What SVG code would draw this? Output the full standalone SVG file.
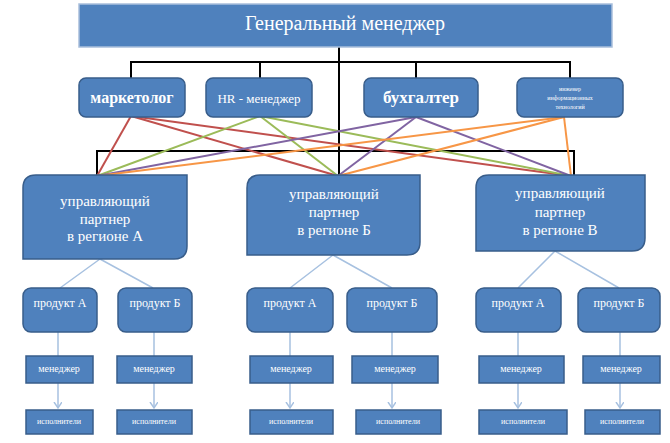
<svg xmlns="http://www.w3.org/2000/svg" width="670" height="443" viewBox="0 0 670 443">
<style>
.box{fill:#4F81BD;stroke:#385D8A;stroke-width:1.5}
.top{fill:#4F81BD;stroke:#A9BFDB;stroke-width:1.5}
.t{font-family:"Liberation Serif","Times New Roman",serif;fill:#fff;text-anchor:middle;dominant-baseline:central}
.blk{stroke:#000;stroke-width:2;fill:none}
.lb{stroke:#A7C1E0;stroke-width:1.5;fill:none}
.r{stroke:#C0504D;stroke-width:2}
.g{stroke:#9BBB59;stroke-width:2}
.p{stroke:#8064A2;stroke-width:2}
.o{stroke:#F79646;stroke-width:2}
</style>
<defs>
<marker id="ar" markerWidth="10" markerHeight="10" refX="6" refY="4" orient="auto" markerUnits="userSpaceOnUse">
<polyline points="0,0 6,4 0,8" fill="none" stroke="#A7C1E0" stroke-width="1.5"/>
</marker>
</defs>
<g id="connectors">
<path class="blk" d="M339,47 V176 M131,78 V62 H570 V78 M260,62 V78 M416,62 V78 M97,176 V151 H574 V176"/>
<line class="r" x1="131" y1="116" x2="97" y2="176"/>
<line class="r" x1="131" y1="116" x2="338" y2="176"/>
<line class="r" x1="131" y1="116" x2="571" y2="176"/>
<line class="g" x1="260" y1="116" x2="97" y2="176"/>
<line class="g" x1="260" y1="116" x2="338" y2="176"/>
<line class="g" x1="260" y1="116" x2="571" y2="176"/>
<line class="p" x1="416" y1="117" x2="97" y2="176"/>
<line class="p" x1="416" y1="117" x2="338" y2="176"/>
<line class="p" x1="416" y1="117" x2="571" y2="176"/>
<line class="o" x1="564" y1="117" x2="97" y2="176"/>
<line class="o" x1="564" y1="117" x2="338" y2="176"/>
<line class="o" x1="564" y1="117" x2="571" y2="176"/>
<path class="lb" d="M100,259 L60,288 M100,259 L153,288 M333,255 L290,288 M333,255 L392,288 M555,251 L518,288 M555,251 L619,288"/>
<path class="lb" d="M58,332 V356 M154,332 V356 M290,332 V356 M392,332 V356 M518,332 V356 M620,332 V356"/>
<g marker-end="url(#ar)">
<line class="lb" x1="58" y1="383" x2="58" y2="408"/>
<line class="lb" x1="154" y1="383" x2="154" y2="408"/>
<line class="lb" x1="290" y1="383" x2="290" y2="408"/>
<line class="lb" x1="392" y1="383" x2="392" y2="408"/>
<line class="lb" x1="518" y1="383" x2="518" y2="408"/>
<line class="lb" x1="620" y1="383" x2="620" y2="408"/>
</g>
</g>
<g id="gm">
<rect class="top" x="79" y="4" width="533" height="43"/>
<text class="t" x="345" y="23" font-size="20">Генеральный менеджер</text>
</g>
<g id="marketolog">
<rect class="box" x="79" y="78" width="106" height="39" rx="7"/>
<text class="t" x="132" y="97" font-size="16" font-weight="bold">маркетолог</text>
</g>
<g id="hr">
<rect class="box" x="206" y="78" width="106" height="39" rx="7"/>
<text class="t" x="259" y="98" font-size="13">HR - менеджер</text>
</g>
<g id="buh">
<rect class="box" x="364" y="78" width="114" height="39" rx="7"/>
<text class="t" x="421" y="97" font-size="17" font-weight="bold">бухгалтер</text>
</g>
<g id="eng">
<rect class="box" x="517" y="78" width="106" height="39" rx="7"/>
<text class="t" x="570" y="89" font-size="6">инженер</text>
<text class="t" x="570" y="98" font-size="6">информационных</text>
<text class="t" x="570" y="107" font-size="6">технологий</text>
</g>
<g id="partnerA">
<path class="box" d="M23,188 Q23,175 36,175 H187 V246 Q187,259 174,259 H23 Z"/>
<text class="t" x="105" y="201" font-size="15">управляющий</text>
<text class="t" x="105" y="219" font-size="15">партнер</text>
<text class="t" x="105" y="236" font-size="15">в регионе А</text>
</g>
<g id="partnerB">
<path class="box" d="M247,188 Q247,175 260,175 H420 V242 Q420,255 407,255 H247 Z"/>
<text class="t" x="334" y="194" font-size="15">управляющий</text>
<text class="t" x="334" y="212" font-size="15">партнер</text>
<text class="t" x="334" y="230" font-size="15">в регионе Б</text>
</g>
<g id="partnerV">
<path class="box" d="M476,188 Q476,175 489,175 H645 V238 Q645,251 632,251 H476 Z"/>
<text class="t" x="560" y="193" font-size="15">управляющий</text>
<text class="t" x="560" y="212" font-size="15">партнер</text>
<text class="t" x="560" y="230" font-size="15">в регионе В</text>
</g>
<g id="prodA1"><rect class="box" x="23" y="288" width="74" height="44" rx="8"/><text class="t" x="60" y="303" font-size="12">продукт А</text></g>
<g id="prodB1"><rect class="box" x="118" y="288" width="74" height="44" rx="8"/><text class="t" x="155" y="303" font-size="12">продукт Б</text></g>
<g id="prodA2"><rect class="box" x="247" y="288" width="86" height="44" rx="8"/><text class="t" x="290" y="303" font-size="12">продукт А</text></g>
<g id="prodB2"><rect class="box" x="347" y="288" width="90" height="44" rx="8"/><text class="t" x="392" y="303" font-size="12">продукт Б</text></g>
<g id="prodA3"><rect class="box" x="476" y="288" width="85" height="44" rx="8"/><text class="t" x="518" y="303" font-size="12">продукт А</text></g>
<g id="prodB3"><rect class="box" x="578" y="288" width="82" height="44" rx="8"/><text class="t" x="619" y="303" font-size="12">продукт Б</text></g>
<g id="manA1"><rect class="box" x="26" y="356" width="67" height="27"/><text class="t" x="59" y="368" font-size="10">менеджер</text></g>
<g id="manB1"><rect class="box" x="117" y="356" width="75" height="27"/><text class="t" x="154" y="368" font-size="10">менеджер</text></g>
<g id="manA2"><rect class="box" x="250" y="356" width="83" height="27"/><text class="t" x="291" y="368" font-size="10">менеджер</text></g>
<g id="manB2"><rect class="box" x="352" y="356" width="86" height="27"/><text class="t" x="395" y="368" font-size="10">менеджер</text></g>
<g id="manA3"><rect class="box" x="479" y="356" width="85" height="27"/><text class="t" x="521" y="368" font-size="10">менеджер</text></g>
<g id="manB3"><rect class="box" x="583" y="356" width="77" height="27"/><text class="t" x="621" y="368" font-size="10">менеджер</text></g>
<g id="ispA1"><rect class="box" x="26" y="410" width="67" height="24"/><text class="t" x="59" y="421" font-size="8">исполнители</text></g>
<g id="ispB1"><rect class="box" x="117" y="410" width="75" height="24"/><text class="t" x="154" y="421" font-size="8">исполнители</text></g>
<g id="ispA2"><rect class="box" x="250" y="410" width="83" height="24"/><text class="t" x="291" y="421" font-size="8">исполнители</text></g>
<g id="ispB2"><rect class="box" x="356" y="410" width="85" height="24"/><text class="t" x="398" y="421" font-size="8">исполнители</text></g>
<g id="ispA3"><rect class="box" x="479" y="410" width="88" height="24"/><text class="t" x="523" y="421" font-size="8">исполнители</text></g>
<g id="ispB3"><rect class="box" x="585" y="410" width="75" height="24"/><text class="t" x="622" y="421" font-size="8">исполнители</text></g>
</svg>
